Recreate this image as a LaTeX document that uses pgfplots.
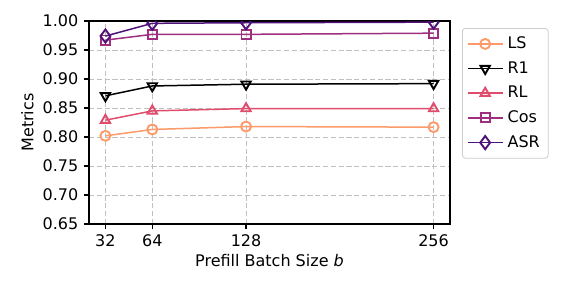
\documentclass[border=0pt]{standalone}
\usepackage{fontspec}
\setmainfont{DejaVu Sans}
\usepackage{pgfplots}
\pgfplotsset{compat=1.18}
\definecolor{cLS}{HTML}{FD9A6A}
\definecolor{cRL}{HTML}{E04C6C}
\definecolor{cCos}{HTML}{9E2F7F}
\definecolor{cASR}{HTML}{4F127B}
\definecolor{gridc}{HTML}{C0C0C0}
\begin{document}
\fontsize{8}{9.6}\selectfont
\begin{tikzpicture}
\begin{axis}[
  name=ax,
  scale only axis,
  width=180.5pt, height=101.5pt,
  xmin=20.8, xmax=267.2,
  ymin=0.65, ymax=1.00,
  xtick={32,64,128,256},
  ytick={0.65,0.70,0.75,0.80,0.85,0.90,0.95,1.00},
  yticklabel style={/pgf/number format/.cd, fixed, fixed zerofill, precision=2},
  /pgf/number format/assume math mode=true,
  tick align=outside,
  tick pos=left,
  major tick length=2.5pt,
  tick style={black, line width=0.6pt},
  grid=major,
  grid style={gridc, line width=0.5pt, dash pattern=on 2.6pt off 1.3pt},
  axis line style={line width=0.8pt},
  xlabel={Prefill Batch Size \textit{b}},
  ylabel={Metrics},
  xlabel style={yshift=2pt},
  ylabel style={yshift=-1pt},
  tick label style={font=\fontsize{8}{9.6}\selectfont},
  label style={font=\fontsize{8}{9.6}\selectfont},
  clip marker paths=true,
  every axis plot/.append style={line width=0.75pt, mark size=2.5pt, mark options={fill=white, solid, line width=0.95pt}},
  legend style={at={(rel axis cs:1,1)}, anchor=north west, xshift=6pt, yshift=-3.5pt,
    draw=gridc!80, rounded corners=1.5pt, font=\fontsize{8}{9.6}\selectfont,
    row sep=1.25pt, inner sep=2.2pt},
  legend cell align=left,
  legend image code/.code={\draw[mark repeat=2,mark phase=2] plot coordinates {(0cm,0cm) (0.31cm,0cm) (0.62cm,0cm)};},
]
\addplot[cLS, mark=o] coordinates {(32,0.802) (64,0.813) (128,0.818) (256,0.817)};
\addlegendentry{LS}
\addplot[black, mark=triangle, mark size=2.7pt, mark options={rotate=180, fill=white, line width=0.95pt}] coordinates {(32,0.871) (64,0.888) (128,0.891) (256,0.892)};
\addlegendentry{R1}
\addplot[cRL, mark=triangle, mark size=2.7pt] coordinates {(32,0.829) (64,0.845) (128,0.849) (256,0.849)};
\addlegendentry{RL}
\addplot[cCos, mark=square, mark size=2.3pt] coordinates {(32,0.967) (64,0.977) (128,0.977) (256,0.979)};
\addlegendentry{Cos}
\addplot[cASR, mark=diamond, mark size=3.3pt] coordinates {(32,0.974) (64,0.996) (128,0.997) (256,0.998)};
\addlegendentry{ASR}
\end{axis}
\pgfresetboundingbox
\path[use as bounding box] ([xshift=-44.5pt,yshift=-35pt]ax.south west) rectangle ([xshift=59pt,yshift=10.5pt]ax.north east);
\end{tikzpicture}
\end{document}
